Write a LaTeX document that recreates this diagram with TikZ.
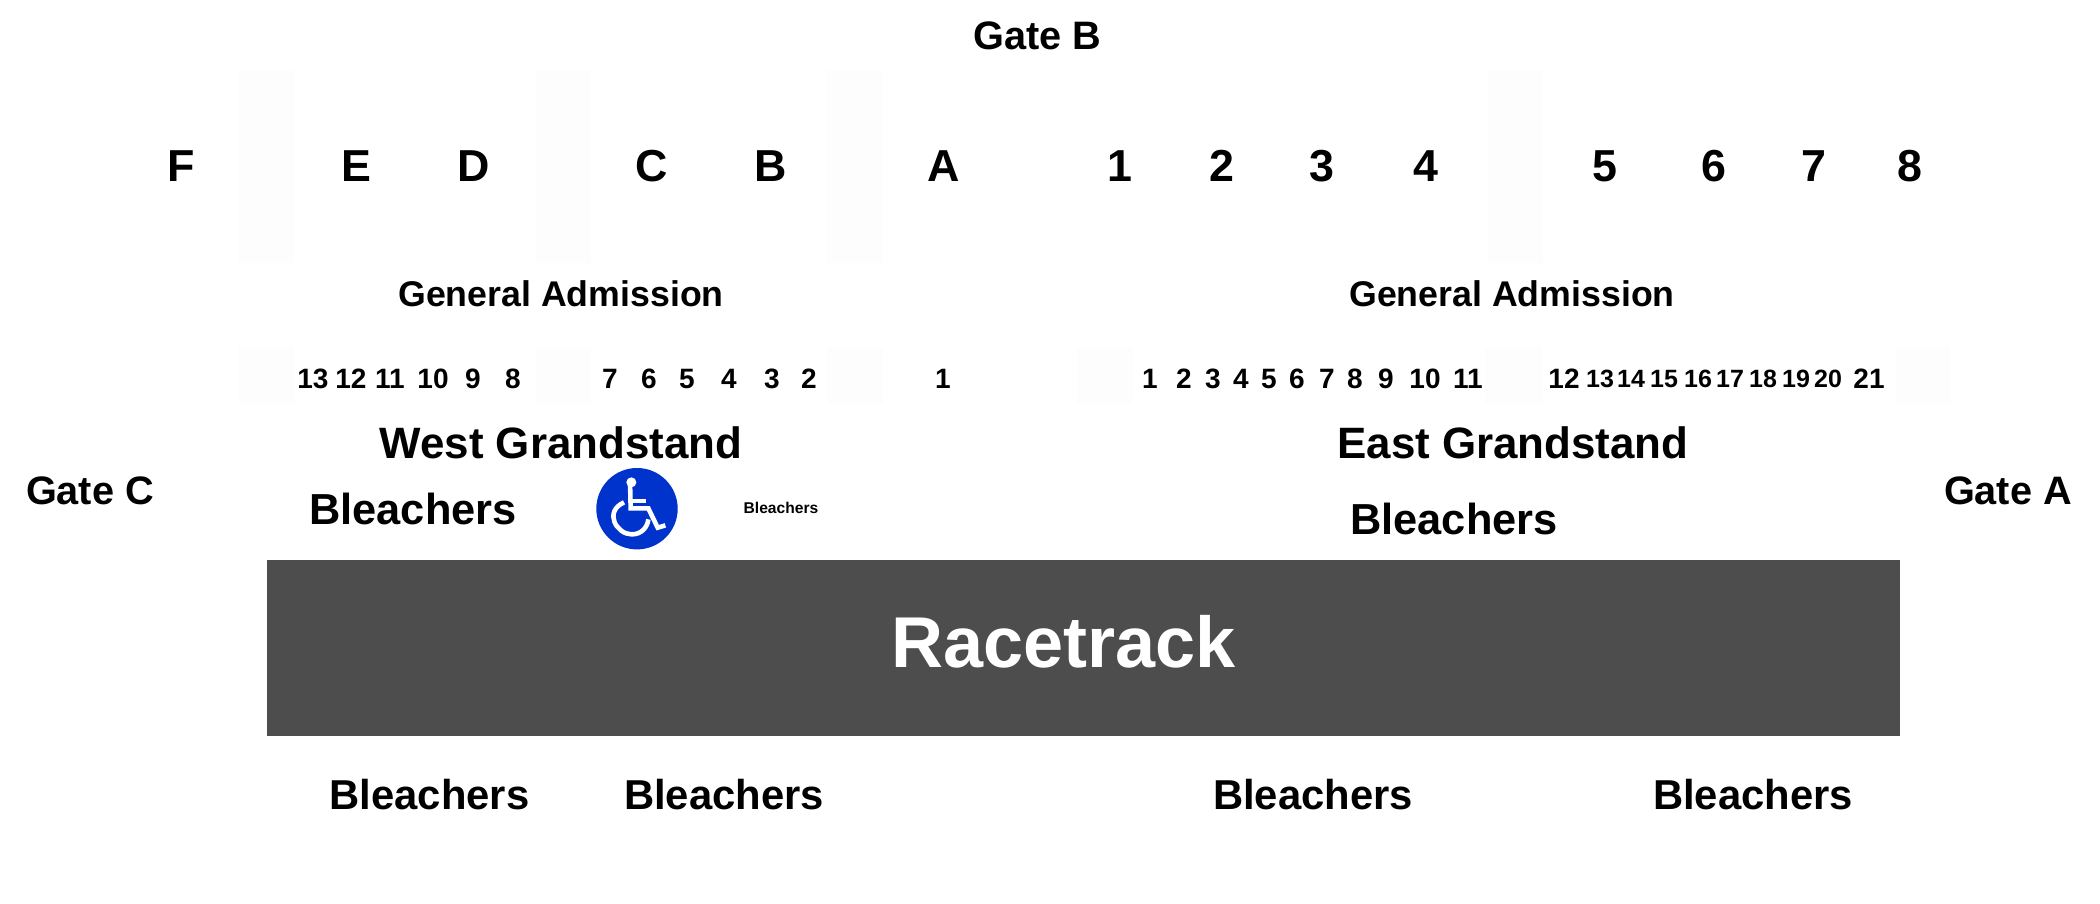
\documentclass[tikz,border=0pt]{standalone}
\usepackage{fontspec}
\setmainfont{Liberation Sans}[BoldFont={Liberation Sans Bold}]
\definecolor{trackgrey}{HTML}{4D4D4D}
\definecolor{faintgrey}{HTML}{FDFDFD}
\definecolor{signblue}{HTML}{0033CC}
\newcommand{\lbl}[1]{\fontsize{#1}{#1}\selectfont\bfseries}
\tikzset{
  txt/.style={inner sep=0pt,outer sep=0pt,anchor=base,text=black},
  letterlbl/.style={txt,font=\lbl{22.4}},
  numlbl/.style={txt,font=\lbl{14}},
  smallnum/.style={txt,font=\lbl{12.5}},
  galbl/.style={txt,font=\lbl{17.85}},
  standlbl/.style={txt,font=\lbl{21.95}},
  gatelbl/.style={txt,font=\lbl{19.85}},
  bleachlbl/.style={txt,font=\lbl{21.7}},
  bleachlow/.style={txt,font=\lbl{20.9}},
  faint/.style={fill=faintgrey,draw=none},
  iconline/.style={draw=white,line width=2.3pt}
}
\begin{document}
\begin{tikzpicture}[x=0.5pt,y=-0.5pt]
\useasboundingbox[fill=white] (0,0) rectangle (2100,904);
% faint blocks
\foreach \a/\b in {238/294,536/591,827/883,1488/1543}
  \fill[faint] (\a,70) rectangle (\b,263);
\foreach \a/\b in {238/294,536/591,827/883,1077/1133,1485/1542,1896/1950}
  \fill[faint] (\a,347) rectangle (\b,403);
% racetrack
\node[fill=trackgrey,draw=none,inner sep=0pt,minimum width=816.75pt,minimum height=88pt,anchor=north west] (track) at (266.5,560) {};
\node[txt,font=\lbl{36},text=white] (racetrack) at (1063.5,667) {Racetrack};
% top
\node[gatelbl] (gateB) at (1037.5,49.5) {Gate B};
\node[gatelbl] (gateC) at (90,504) {Gate C};
\node[gatelbl] (gateA) at (2008,504) {Gate A};
\foreach \t/\x in {F/181,E/356,D/474,C/652,B/771,A/944,1/1120,2/1222,3/1322,4/1426,5/1605,6/1714,7/1814,8/1910}
  \node[letterlbl] (top\t) at (\x,182) {\t};
\node[galbl] (gaW) at (561,306) {General Admission};
\node[galbl] (gaE) at (1512,306) {General Admission};
% row numbers
\foreach \t/\x in {13/313,12/351,11/390,10/433,9/473,8/513,7/610,6/649,5/687,4/729,3/772,2/809,1/943}
  \node[numlbl] (w\t) at (\x,388) {\t};
\foreach \t/\x in {1/1150,2/1184,3/1213,4/1241,5/1269,6/1297,7/1327,8/1355,9/1386,10/1425,11/1468,12/1564,21/1869}
  \node[numlbl] (e\t) at (\x,388) {\t};
\foreach \t/\x in {13/1600,14/1631,15/1664,16/1698,17/1730,18/1763,19/1796,20/1828}
  \node[smallnum] (e\t) at (\x,387) {\t};
% stands
\node[standlbl] (west) at (561,458) {West Grandstand};
\node[standlbl] (east) at (1513,458) {East Grandstand};
\node[bleachlbl] (bW) at (413,524) {Bleachers};
\node[bleachlbl] (bE) at (1454,534) {Bleachers};
\node[txt,font=\lbl{7.8}] (bS) at (781,513.5) {Bleachers};
\foreach \n/\x in {a/429.5,b/724,c/1313,d/1753}
  \node[bleachlow] (bL\n) at (\x,809) {Bleachers};
% wheelchair sign
\fill[signblue] (637,508.7) circle (40.7);
\begin{scope}[shift={(560,440)},x=0.1667pt,y=-0.1667pt]
  \fill[white] (214,127) circle (15);
  \draw[iconline] (210,127) -- (212,205) -- (265,205) -- (293,263) -- (316,256);
  \draw[iconline] (212,183) -- (258,183);
  \draw[iconline] (192,187) .. controls (130,215) and (170,283) .. (215,283) .. controls (245,283) and (262,262) .. (265,238);
\end{scope}
\end{tikzpicture}
\end{document}
